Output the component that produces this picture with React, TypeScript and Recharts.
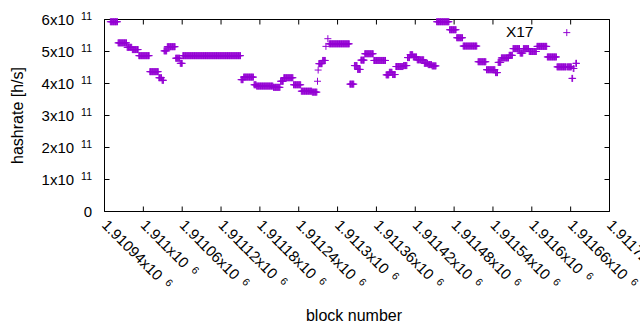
import { ReferenceArea, ReferenceDot, Scatter, ScatterChart, XAxis, YAxis } from "recharts"

const BLOCK_BASE = 1910940

// runs of blocks with the same estimated hashrate (offsets from BLOCK_BASE, hashrate in 1e11 h/s)
const RUN_FIRST = [
  9, 21, 35, 43, 53, 70, 84, 89, 92, 97, 110, 117, 121, 211, 215, 231, 235, 261, 272, 277,
  292, 304, 321, 329, 330, 331, 337, 342, 345, 347, 379, 386, 391, 396, 402, 416, 435, 440, 445, 450,
  462, 468, 472, 477, 483, 494, 500, 506, 513, 533, 544, 554, 577, 590, 604, 608, 613, 625, 631, 642,
  647, 656, 668, 684, 699, 714, 715, 722, 724, 728,
]
const RUN_LAST = [
  20, 34, 42, 52, 69, 83, 88, 91, 96, 109, 116, 120, 210, 214, 230, 234, 260, 271, 276, 291,
  303, 320, 328, 329, 330, 336, 341, 342, 345, 378, 385, 390, 395, 401, 415, 434, 439, 444, 449, 461,
  467, 471, 476, 482, 493, 499, 505, 512, 532, 543, 553, 575, 589, 603, 607, 612, 624, 630, 641, 646,
  655, 667, 683, 698, 713, 714, 721, 723, 725, 729,
]
const RUN_HASHRATE = [
  5.93, 5.27, 5.13, 5.06, 4.87, 4.37, 4.18, 4.1, 5.02, 5.15, 4.79, 4.63, 4.87, 4.12, 4.2, 3.96, 3.92, 3.88, 4.07, 4.18,
  3.96, 3.76, 3.73, 4.07, 4.42, 4.62, 4.72, 5.16, 5.4, 5.24, 3.98, 4.56, 4.44, 4.73, 4.93, 4.72, 4.27, 4.35, 4.28, 4.53,
  4.56, 4.81, 4.9, 4.83, 4.74, 4.63, 4.59, 4.55, 5.93, 5.68, 5.43, 5.17, 4.68, 4.43, 4.34, 4.66, 4.8, 4.88, 5.09, 4.95,
  5.09, 5.0, 5.16, 4.83, 4.52, 5.59, 4.52, 4.16, 4.47, 4.63,
]

const X_TICKS = [
  1910940, 1911000, 1911060, 1911120, 1911180, 1911240, 1911300, 1911360, 1911420, 1911480, 1911540,
  1911600, 1911660, 1911720,
]
const X_TICK_LABELS = [
  "1.91094", "1.911", "1.91106", "1.91112", "1.91118", "1.91124", "1.9113", "1.91136", "1.91142",
  "1.91148", "1.91154", "1.9116", "1.91166", "1.91172",
]
const Y_TICKS = [0, 1e11, 2e11, 3e11, 4e11, 5e11, 6e11]
const Y_TICK_LABELS = ["0", "1", "2", "3", "4", "5", "6"]

const NOTE_TEXT = "X17"
const NOTE_BLOCK = 1911560
const NOTE_HASHRATE = 5.61e11

const points: { block: number; hashrate: number }[] = []
RUN_FIRST.forEach((first, i) => {
  for (let b = first; b <= RUN_LAST[i]; b++) {
    points.push({ block: BLOCK_BASE + b, hashrate: RUN_HASHRATE[i] * 1e11 })
  }
})

const W = 640
const H = 330
const PLOT_LEFT = 104.5
const PLOT_TOP = 19.5
const PLOT_RIGHT = 609.5
const PLOT_BOTTOM = 211.5
const TIC = 5
const FONT = "'Liberation Sans', Arial, sans-serif"
const PURPLE = "#9400d3"

function Plus(props: any) {
  const { cx, cy } = props
  if (cx == null || cy == null) return null
  return (
    <path
      d={`M${cx - 3.5},${cy}H${cx + 3.5}M${cx},${cy - 3.5}V${cy + 3.5}`}
      stroke={PURPLE}
      strokeWidth={1}
      fill="none"
    />
  )
}

function XTick(props: any) {
  const { x, index } = props
  const ly = PLOT_BOTTOM + 11
  return (
    <g>
      <line x1={x} x2={x} y1={PLOT_BOTTOM} y2={PLOT_BOTTOM - TIC} stroke="#000" />
      <line x1={x} x2={x} y1={PLOT_TOP} y2={PLOT_TOP + TIC} stroke="#000" />
      <text
        x={x}
        y={ly}
        dy={5}
        transform={`rotate(45, ${x}, ${ly})`}
        fontSize={15}
        fontFamily={FONT}
        fill="#000"
      >
        <tspan>{X_TICK_LABELS[index]}x10</tspan>
        <tspan fontSize={10.5} dx={7} dy={-4.5}>6</tspan>
      </text>
    </g>
  )
}

function YTick(props: any) {
  const { y, index } = props
  const label = Y_TICK_LABELS[index]
  return (
    <g>
      <line x1={PLOT_LEFT} x2={PLOT_LEFT + TIC} y1={y} y2={y} stroke="#000" />
      <line x1={PLOT_RIGHT - TIC} x2={PLOT_RIGHT} y1={y} y2={y} stroke="#000" />
      <text x={PLOT_LEFT - 12.5} y={y + 5} textAnchor="end" fontSize={15} fontFamily={FONT} fill="#000">
        {label === "0" ? (
          "0"
        ) : (
          <>
            <tspan>{label}x10</tspan>
            <tspan fontSize={10.5} dx={7} dy={-4.5}>11</tspan>
          </>
        )}
      </text>
    </g>
  )
}

export default function App() {
  return (
    <div style={{ position: "absolute", left: 0, top: 0, width: W, height: H, background: "#fff" }}>
      <ScatterChart
        width={W}
        height={H}
        margin={{ top: PLOT_TOP, right: W - PLOT_RIGHT, bottom: 0, left: 0 }}
      >
        <XAxis
          type="number"
          dataKey="block"
          domain={[X_TICKS[0], X_TICKS[X_TICKS.length - 1]]}
          ticks={X_TICKS}
          interval={0}
          height={H - PLOT_BOTTOM}
          axisLine={false}
          tickLine={false}
          tickSize={0}
          tickMargin={0}
          tick={<XTick />}
          label={{
            content: (p: any) => (
              <text
                x={p.viewBox.x + p.viewBox.width / 2 - 3}
                y={p.viewBox.y + 109.5}
                textAnchor="middle"
                fontSize={16}
                fontFamily={FONT}
                fill="#000"
              >
                block number
              </text>
            ),
          }}
        />
        <YAxis
          type="number"
          dataKey="hashrate"
          domain={[0, 6e11]}
          ticks={Y_TICKS}
          interval={0}
          width={PLOT_LEFT}
          axisLine={false}
          tickLine={false}
          tickSize={0}
          tickMargin={0}
          tick={<YTick />}
          label={{
            content: (p: any) => {
              const cx = 17.5
              const cy = p.viewBox.y + p.viewBox.height / 2
              return (
                <text
                  x={cx}
                  y={cy}
                  transform={`rotate(-90, ${cx}, ${cy})`}
                  textAnchor="middle"
                  dominantBaseline="central"
                  fontSize={16}
                  fontFamily={FONT}
                  fill="#000"
                >
                  hashrate [h/s]
                </text>
              )
            },
          }}
        />
        <ReferenceArea
          x1={X_TICKS[0]}
          x2={X_TICKS[X_TICKS.length - 1]}
          y1={0}
          y2={6e11}
          fill="none"
          stroke="#000"
          strokeWidth={1}
          ifOverflow="visible"
        />
        <Scatter data={points} shape={<Plus />} isAnimationActive={false} />
        <ReferenceDot
          x={NOTE_BLOCK}
          y={NOTE_HASHRATE}
          r={0}
          ifOverflow="visible"
          shape={(p: any) => (
            <text
              x={p.cx}
              y={p.cy}
              dominantBaseline="central"
              fontSize={15.5}
              fontFamily={FONT}
              fill="#000"
            >
              {NOTE_TEXT}
            </text>
          )}
        />
      </ScatterChart>
    </div>
  )
}
